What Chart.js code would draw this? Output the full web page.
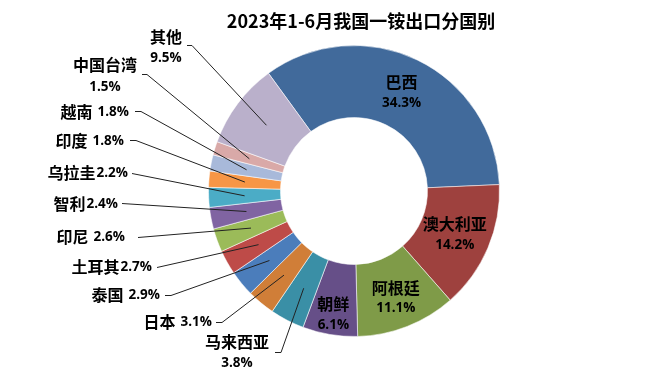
<!DOCTYPE html>
<html>
<head>
<meta charset="utf-8">
<script src="https://cdn.jsdelivr.net/npm/chart.js@4.4.1/dist/chart.umd.min.js"></script>
<style>
  html, body { margin: 0; padding: 0; background: #ffffff; }
  #wrap { width: 659px; height: 378px; position: relative; }
</style>
</head>
<body>
<div id="wrap"><canvas id="c" width="659" height="378"></canvas></div>
<script>
// ---- data ----
const chartTitle = '2023年1-6月我国一铵出口分国别';
const categories = ['巴西','澳大利亚','阿根廷','朝鲜','马来西亚','日本','泰国','土耳其','印尼','智利','乌拉圭','印度','越南','中国台湾','其他'];
const shares = [34.3, 14.2, 11.1, 6.1, 3.8, 3.1, 2.9, 2.7, 2.6, 2.4, 2.2, 1.8, 1.8, 1.5, 9.5];
const sliceColors = ['#416A9B','#9E413E','#7F9B48','#664F88','#3A8FA6','#D07E38','#4B7DBB','#BE4B48','#9BBB59','#8064A2','#4BACC6','#F79646','#A8B9DA','#D9A9A8','#BAB0CB'];

// ---- label layout (positions only) ----
const insideLabels = { 0: {dr: 0}, 1: {dr: 0}, 2: {dr: 5}, 3: {dr: 15} };
const outsideLabels = {
  14: {mode: 'stack', cx: 166, y1: 37, y2: 58, line: [[187,45],[192,45]]},
  13: {mode: 'stack', cx: 105, y1: 65, y2: 87, line: [[142,74],[147,74]]},
  12: {mode: 'inline', xr: 129, y: 112, gap: 5, line: [[135,111],[141,111]]},
  11: {mode: 'inline', xr: 124, y: 141, gap: 5, line: [[130,140],[136,140]]},
  10: {mode: 'inline', xr: 128, y: 173, gap: 1, line: [[132,173]]},
  9:  {mode: 'inline', xr: 118, y: 204, gap: 1, line: [[122,203]]},
  8:  {mode: 'inline', xr: 125, y: 237, gap: 5, line: [[138,237]]},
  7:  {mode: 'inline', xr: 152, y: 267, gap: 1, line: [[157,267]]},
  6:  {mode: 'inline', xr: 160, y: 295, gap: 5, line: [[165,295],[171,295]]},
  5:  {mode: 'inline', xr: 212, y: 322, gap: 5, line: [[216,322],[222,322]]},
  4:  {mode: 'stack', cx: 237, y1: 342, y2: 363, line: [[275,352],[281,352]]}
};

const CJK = '"Noto Sans CJK SC", "Noto Sans", sans-serif';
const NUM = '"Open Sans", Lato, sans-serif';
const nameFont = 'bold 16px ' + CJK;
const pctFont = 'bold 13.5px ' + NUM;

const labelPlugin = {
  id: 'labelPlugin',
  afterDatasetsDraw(chart) {
    const ctx = chart.ctx;
    const meta = chart.getDatasetMeta(0);
    ctx.save();
    // title
    ctx.fillStyle = '#000';
    ctx.font = 'bold 18px ' + CJK;
    ctx.textAlign = 'center';
    ctx.textBaseline = 'middle';
    ctx.fillText(chartTitle, 361, 21);

    meta.data.forEach((arc, i) => {
      const p = arc.getProps(['x','y','startAngle','endAngle','innerRadius','outerRadius'], true);
      const mid = (p.startAngle + p.endAngle) / 2;
      const rMid = (p.innerRadius + p.outerRadius) / 2;
      const pct = shares[i].toFixed(1) + '%';
      ctx.fillStyle = '#000';
      ctx.textBaseline = 'middle';
      if (insideLabels[i]) {
        const r = rMid + insideLabels[i].dr;
        const lx = p.x + Math.cos(mid) * r;
        const ly = p.y + Math.sin(mid) * r;
        ctx.textAlign = 'center';
        ctx.font = nameFont;
        ctx.fillText(categories[i], lx, ly - 10);
        ctx.font = pctFont;
        ctx.fillText(pct, lx, ly + 11);
      } else if (outsideLabels[i]) {
        const L = outsideLabels[i];
        if (L.mode === 'stack') {
          ctx.textAlign = 'center';
          ctx.font = nameFont;
          ctx.fillText(categories[i], L.cx, L.y1);
          ctx.font = pctFont;
          ctx.fillText(pct, L.cx, L.y2);
        } else {
          ctx.textAlign = 'right';
          ctx.font = pctFont;
          const w = ctx.measureText(pct).width;
          ctx.fillText(pct, L.xr, L.y);
          ctx.font = nameFont;
          ctx.fillText(categories[i], L.xr - w - L.gap, L.y);
        }
        // leader line
        const ex = p.x + Math.cos(mid) * rMid;
        const ey = p.y + Math.sin(mid) * rMid;
        ctx.beginPath();
        ctx.strokeStyle = '#222';
        ctx.lineWidth = 1;
        ctx.moveTo(L.line[0][0], L.line[0][1] + 0.5);
        for (let k = 1; k < L.line.length; k++) ctx.lineTo(L.line[k][0], L.line[k][1] + 0.5);
        ctx.lineTo(ex, ey);
        ctx.stroke();
      }
    });
    ctx.restore();
  }
};

new Chart(document.getElementById('c'), {
  type: 'doughnut',
  data: {
    labels: categories,
    datasets: [{
      data: shares,
      backgroundColor: sliceColors,
      borderColor: 'rgba(255,255,255,0.55)',
      borderWidth: 1
    }]
  },
  options: {
    responsive: false,
    animation: false,
    rotation: -36,
    cutout: '50.5%',
    layout: { padding: { left: 208, right: 159, top: 45, bottom: 41 } },
    plugins: {
      legend: { display: false },
      tooltip: { enabled: false },
      title: { display: false }
    }
  },
  plugins: [labelPlugin]
});
</script>
</body>
</html>
